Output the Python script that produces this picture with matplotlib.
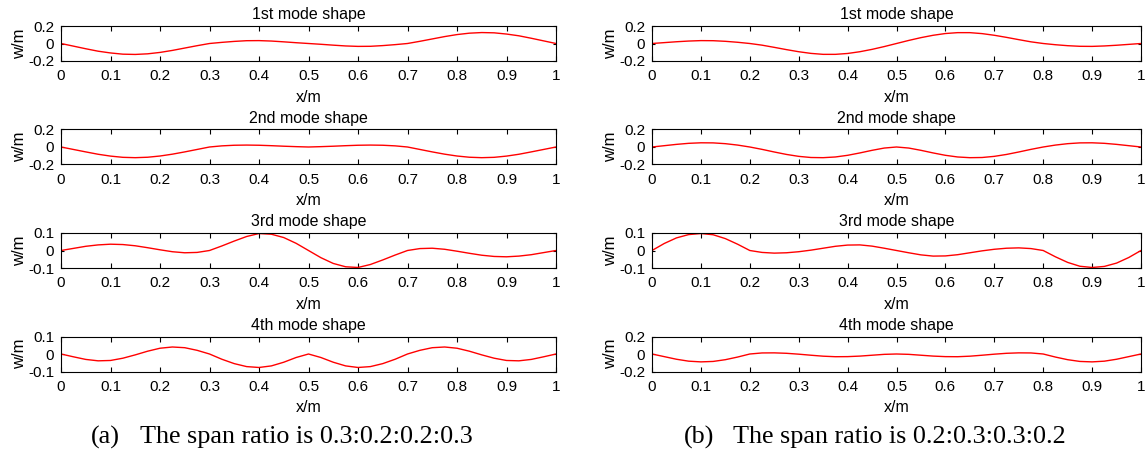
import matplotlib
matplotlib.use("Agg")
import matplotlib.pyplot as plt
import numpy as np

plt.rcParams["font.family"] = ["Liberation Sans", "DejaVu Sans"]
plt.rcParams["axes.unicode_minus"] = False

W, H = 1148, 458

# ── data: mode shapes, x step 0.025 ──────────────────────────────────────────
x = np.linspace(0, 1, 41)

titles = ["1st mode shape", "2nd mode shape", "3rd mode shape", "4th mode shape"]

# (a) span ratio 0.3:0.2:0.2:0.3
a_mode1 = [0, -0.030, -0.060, -0.088, -0.108, -0.122, -0.125, -0.118, -0.102, -0.079, -0.052, -0.025, 0,
           0.013, 0.024, 0.032, 0.033, 0.028, 0.019, 0.009, 0,
           -0.009, -0.019, -0.028, -0.033, -0.032, -0.024, -0.013, 0,
           0.025, 0.052, 0.079, 0.102, 0.118, 0.125, 0.122, 0.108, 0.088, 0.060, 0.030, 0]
a_mode2 = [0, -0.028, -0.056, -0.083, -0.104, -0.118, -0.122, -0.117, -0.103, -0.082, -0.056, -0.028, 0,
           0.013, 0.020, 0.022, 0.020, 0.015, 0.009, 0.004, 0,
           0.004, 0.009, 0.015, 0.020, 0.022, 0.020, 0.013, 0,
           -0.028, -0.056, -0.082, -0.103, -0.117, -0.122, -0.118, -0.104, -0.083, -0.056, -0.028, 0]
a_mode3 = [0, 0.012, 0.024, 0.032, 0.036, 0.034, 0.027, 0.016, 0.004, -0.007, -0.013, -0.011, 0,
           0.026, 0.054, 0.080, 0.097, 0.093, 0.074, 0.041, 0,
           -0.041, -0.074, -0.093, -0.097, -0.080, -0.054, -0.026, 0,
           0.011, 0.013, 0.007, -0.004, -0.016, -0.027, -0.034, -0.036, -0.032, -0.024, -0.012, 0]
a_mode4 = [0, -0.016, -0.031, -0.039, -0.037, -0.024, -0.005, 0.016, 0.033, 0.040, 0.036, 0.021, 0,
           -0.030, -0.055, -0.072, -0.077, -0.068, -0.047, -0.020, 0,
           -0.020, -0.047, -0.068, -0.077, -0.072, -0.055, -0.030, 0,
           0.021, 0.036, 0.040, 0.033, 0.016, -0.005, -0.024, -0.037, -0.039, -0.031, -0.016, 0]

# (b) span ratio 0.2:0.3:0.3:0.2
b_mode1 = [0, 0.010, 0.020, 0.028, 0.033, 0.032, 0.025, 0.014, 0,
           -0.019, -0.044, -0.070, -0.094, -0.113, -0.124, -0.124, -0.114, -0.094, -0.067, -0.035, 0,
           0.035, 0.067, 0.094, 0.114, 0.124, 0.124, 0.113, 0.094, 0.070, 0.044, 0.019, 0,
           -0.014, -0.025, -0.032, -0.033, -0.028, -0.020, -0.010, 0]
b_mode2 = [0, 0.015, 0.030, 0.042, 0.048, 0.047, 0.038, 0.022, 0,
           -0.027, -0.057, -0.085, -0.107, -0.120, -0.122, -0.114, -0.095, -0.068, -0.038, -0.012, 0,
           -0.012, -0.038, -0.068, -0.095, -0.114, -0.122, -0.120, -0.107, -0.085, -0.057, -0.027, 0,
           0.022, 0.038, 0.047, 0.048, 0.042, 0.030, 0.015, 0]
b_mode3 = [0, 0.040, 0.072, 0.091, 0.097, 0.090, 0.068, 0.036, 0,
           -0.011, -0.015, -0.013, -0.007, 0.002, 0.013, 0.024, 0.031, 0.032, 0.025, 0.013, 0,
           -0.013, -0.025, -0.032, -0.031, -0.024, -0.013, -0.002, 0.007, 0.013, 0.015, 0.011, 0,
           -0.036, -0.068, -0.090, -0.097, -0.091, -0.072, -0.040, 0]
b_mode4 = [0, -0.030, -0.060, -0.082, -0.090, -0.085, -0.065, -0.035, 0,
           0.012, 0.013, 0.008, -0.002, -0.014, -0.025, -0.031, -0.030, -0.024, -0.014, -0.004, 0,
           -0.004, -0.014, -0.024, -0.030, -0.031, -0.025, -0.014, -0.002, 0.008, 0.013, 0.012, 0,
           -0.035, -0.065, -0.085, -0.090, -0.082, -0.060, -0.030, 0]

a_ylims = [0.2, 0.2, 0.1, 0.1]
b_ylims = [0.2, 0.2, 0.1, 0.2]

x_ticks = [0, 0.1, 0.2, 0.3, 0.4, 0.5, 0.6, 0.7, 0.8, 0.9, 1]
x_ticklabels = ["0", "0.1", "0.2", "0.3", "0.4", "0.5", "0.6", "0.7", "0.8", "0.9", "1"]

captions = [("(a)", "The span ratio is 0.3:0.2:0.2:0.3"),
            ("(b)", "The span ratio is 0.2:0.3:0.3:0.2")]


# ── layout (pixel positions) ─────────────────────────────────────────────────
COL_X = [61, 652]
COL_W = [495, 489]
ROW_TOP = [26, 129.5, 233, 336.5]
AX_H = 35

fig = plt.figure(figsize=(W / 100, H / 100), dpi=100)
fig.patch.set_facecolor("white")


def add_ax(left, top, width):
    return fig.add_axes([left / W, 1 - (top + AX_H) / H, width / W, AX_H / H])


def fmt(v):
    return "0" if v == 0 else f"{v:g}"


panels = [([a_mode1, a_mode2, a_mode3, a_mode4], a_ylims),
          ([b_mode1, b_mode2, b_mode3, b_mode4], b_ylims)]

for col, (modes, ylims) in enumerate(panels):
    for row in range(4):
        ax = add_ax(COL_X[col], ROW_TOP[row], COL_W[col])
        ax.plot(x, modes[row], color="red", lw=1.0)
        lim = ylims[row]
        ax.set_xlim(0, 1)
        ax.set_ylim(-lim, lim)
        ax.set_xticks(x_ticks)
        ax.set_xticklabels(x_ticklabels)
        ax.set_yticks([-lim, 0, lim])
        ax.set_yticklabels([fmt(-lim), "0", fmt(lim)])
        ax.tick_params(axis="x", direction="in", top=True, length=3.8,
                       width=0.8, labelsize=11, pad=6)
        ax.tick_params(axis="y", direction="in", right=True, length=2.5,
                       width=0.8, labelsize=11, pad=5)
        for sp in ax.spines.values():
            sp.set_linewidth(0.8)
        ax.set_title(titles[row], fontsize=11.5, pad=5)
        ax.set_xlabel("x/m", fontsize=11.5, labelpad=4.5)
        ax.set_ylabel("w/m", fontsize=12, labelpad=1)

# captions
for col, (tag, text) in enumerate(captions):
    x0 = [91, 684][col] / W
    x1 = [140, 733][col] / W
    fig.text(x0, 1 - 437 / H, tag, ha="left", va="center", fontsize=18.8,
             family="Liberation Serif")
    fig.text(x1, 1 - 437 / H, text, ha="left", va="center", fontsize=18.8,
             family="Liberation Serif")

fig.savefig("out.png", dpi=100, facecolor="white")
